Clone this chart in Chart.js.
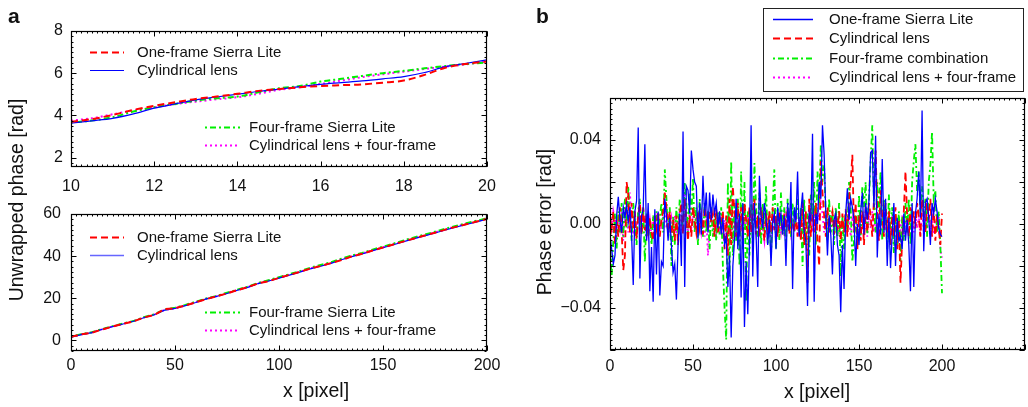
<!DOCTYPE html>
<html><head><meta charset="utf-8">
<script src="https://cdn.jsdelivr.net/npm/chart.js@4.4.0/dist/chart.umd.min.js"></script>
<style>
html,body{margin:0;padding:0;background:#fff;}
#wrap{position:relative;width:1028px;height:407px;overflow:hidden;font-family:"Liberation Sans",Arial,sans-serif;color:#111;}
canvas{position:absolute;}
.lbl{position:absolute;white-space:nowrap;line-height:1;}
</style></head><body>
<div id="wrap">
<canvas id="cA1" style="left:0;top:0" width="500" height="195"></canvas>
<canvas id="cA2" style="left:0;top:195px" width="500" height="212"></canvas>
<canvas id="cB" style="left:520px;top:0" width="508" height="407"></canvas>
<div class="lbl" style="left:8px;top:5px;font-weight:bold;font-size:21px;">a</div>
<div class="lbl" style="left:536px;top:5px;font-weight:bold;font-size:21px;">b</div>
<div class="lbl" style="left:17px;top:200px;font-size:19.5px;transform:translate(-50%,-50%) rotate(-90deg);">Unwrapped phase [rad]</div>
<div class="lbl" style="left:283px;top:381px;font-size:19.5px;">x [pixel]</div>
<div class="lbl" style="left:817px;top:382px;font-size:19.5px;transform:translateX(-50%);">x [pixel]</div>
<div class="lbl" style="left:545px;top:222px;font-size:19.5px;transform:translate(-50%,-50%) rotate(-90deg);">Phase error [rad]</div>
</div>
<script>
// ---------- Panel a (top, zoom 10..20) ----------
const topX = [10,10.5,11,11.5,12,12.5,13,13.5,14,14.5,15,15.5,16,16.5,17,17.5,18,18.5,19,19.5,20];
const topOneFrame = [3.69,3.82,4.02,4.26,4.45,4.62,4.78,4.89,5.02,5.16,5.25,5.33,5.39,5.43,5.47,5.55,5.65,5.92,6.26,6.44,6.55];
const topCylLens = [3.63,3.74,3.86,4.07,4.34,4.54,4.73,4.87,5.00,5.13,5.24,5.36,5.47,5.55,5.63,5.73,5.84,6.03,6.31,6.47,6.63];
const topFourFrame = [3.66,3.75,3.91,4.18,4.38,4.54,4.70,4.81,4.89,5.09,5.28,5.39,5.60,5.73,5.87,6.00,6.11,6.23,6.34,6.44,6.50];
const topCylFour = [3.75,3.86,4.05,4.23,4.38,4.53,4.65,4.76,4.86,5.02,5.21,5.33,5.49,5.65,5.81,5.95,6.07,6.20,6.31,6.42,6.55];
const topXTicks = [10,12,14,16,18,20];
const topYTicks = [2,4,6,8];

// ---------- Panel a (bottom, full 0..200) ----------
const fullX = [0,5,10,15,20,25,30,35,40,45,50,55,60,65,70,75,80,85,90,95,100,105,110,115,120,125,130,135,140,145,150,155,160,165,170,175,180,185,190,195,200];
const fullOneFrame = [1.7,2.9,3.7,5.2,6.6,7.9,9.0,10.9,12.1,14.9,15.3,16.6,18.1,19.6,21.0,22.3,23.9,25.3,27.1,28.1,29.7,31.1,32.5,34.1,35.3,36.7,38.1,39.9,41.1,42.7,44.1,45.5,47.0,48.4,49.8,51.1,52.6,53.9,55.1,56.4,57.6];
const fullCylLens = [1.6,2.8,3.7,5.3,6.6,7.8,9.1,10.8,12.2,14.4,15.2,16.5,18.0,19.7,20.9,22.3,23.8,25.2,27.0,28.2,29.6,31.0,32.4,34.0,35.2,36.6,38.3,39.8,41.0,42.6,44.0,45.4,46.9,48.3,49.6,51.0,52.4,53.8,55.0,56.3,57.6];
const fullFourFrame = [1.8,3.0,3.9,5.4,6.8,8.0,9.2,11.0,12.4,14.6,15.5,16.8,18.4,19.9,21.1,22.6,24.1,25.5,27.3,28.6,30.0,31.4,32.9,34.5,35.8,37.1,38.8,40.3,41.5,43.1,44.5,45.9,47.5,48.9,50.2,51.6,53.0,54.3,55.6,56.8,57.9];
const fullCylFour = [1.7,2.9,3.8,5.3,6.7,7.9,9.1,10.9,12.3,14.5,15.3,16.6,18.2,19.8,21.0,22.5,23.9,25.4,27.1,28.4,29.8,31.2,32.6,34.2,35.5,36.9,38.5,40.1,41.3,42.8,44.2,45.7,47.2,48.6,49.9,51.3,52.7,54.1,55.4,56.6,57.8];
const fullXTicks = [0,50,100,150,200];
const fullYTicks = [0,20,40,60];

// ---------- Panel b (phase error, x = 0..200) ----------
const errOneFrame = [-0.005,-0.012,-0.019,-0.015,0.004,0.013,0.002,-0.004,0.008,0.003,0.009,0.001,0.008,-0.005,-0.029,0.006,0.011,0.046,-0.026,0.004,
0.007,0.038,-0.008,0.010,-0.032,-0.011,-0.037,0.007,-0.024,0.006,-0.034,-0.018,-0.020,0.012,0.004,-0.008,0.003,-0.010,-0.023,-0.019,
-0.036,-0.010,0.005,-0.020,0.044,-0.030,0.018,0.016,0.005,0.035,0.026,0.020,0.018,-0.007,0.010,-0.005,0.023,0.004,0.015,-0.004,
0.015,0.002,0.014,0.005,0.010,-0.002,0.006,-0.005,0.003,-0.010,-0.006,-0.030,-0.015,-0.054,-0.020,-0.008,0.012,-0.012,0.005,-0.035,
0.010,-0.049,-0.018,-0.043,-0.010,0.047,-0.025,0.010,-0.005,-0.030,0.023,0.004,-0.002,0.010,0.003,-0.010,0.002,-0.020,0.001,0.005,
-0.012,0.008,0.000,0.005,-0.005,0.004,-0.020,0.010,-0.003,0.020,-0.031,0.008,0.001,0.025,-0.006,0.006,0.015,-0.004,-0.008,-0.039,
0.005,0.002,0.043,-0.037,0.005,0.000,0.020,0.012,0.047,0.033,0.005,-0.015,0.004,-0.005,-0.024,0.002,0.005,-0.010,-0.015,-0.042,
-0.010,-0.031,0.005,0.017,0.002,0.012,0.008,0.002,-0.020,0.000,-0.010,0.006,0.015,-0.005,0.010,0.002,0.011,0.034,0.035,0.008,
0.042,-0.016,0.005,-0.005,0.031,-0.004,0.012,-0.020,0.003,-0.021,-0.005,0.010,-0.020,0.003,-0.008,-0.006,-0.012,0.005,-0.008,0.002,
-0.010,-0.032,0.010,-0.030,0.005,0.012,0.025,0.003,0.054,-0.013,0.010,0.012,0.003,-0.010,0.010,0.005,0.012,0.006,-0.002,-0.005,-0.006];
const errCylLens = [0.004,-0.002,0.006,-0.010,0.002,-0.006,0.008,-0.003,-0.022,-0.015,0.020,0.014,-0.004,0.010,-0.002,0.006,-0.007,0.004,0.010,-0.005,
0.008,-0.003,0.005,-0.006,0.003,-0.004,-0.008,0.004,-0.002,0.006,-0.006,0.002,0.006,0.015,0.008,-0.004,0.006,-0.005,0.002,-0.008,
0.004,-0.010,0.005,0.010,-0.005,0.012,0.002,-0.008,0.004,-0.006,0.008,0.002,-0.004,0.006,-0.002,0.004,-0.005,0.008,0.003,-0.003,
0.006,0.001,0.005,-0.006,0.007,-0.004,0.003,-0.002,0.006,-0.012,0.004,-0.015,0.012,-0.010,0.018,0.005,-0.006,0.010,-0.004,0.008,
-0.008,0.010,0.002,-0.006,0.008,-0.004,0.006,0.012,-0.005,0.004,-0.006,0.008,0.000,-0.008,0.005,-0.002,0.006,-0.004,0.008,-0.003,
0.004,-0.006,0.006,0.002,-0.004,0.005,-0.002,0.007,-0.005,0.003,0.000,-0.004,0.004,-0.006,0.002,-0.008,0.010,-0.010,0.006,-0.028,
0.012,-0.006,0.005,-0.004,0.010,-0.008,-0.020,0.030,0.015,0.004,-0.006,0.008,-0.004,0.002,0.006,-0.005,0.004,-0.003,0.006,-0.008,
0.005,-0.004,0.007,-0.006,0.012,0.020,0.033,-0.004,0.010,-0.012,0.004,-0.008,0.006,-0.010,0.008,-0.004,0.010,0.004,-0.006,0.012,
0.035,0.006,-0.008,0.016,0.004,-0.006,0.010,-0.004,0.006,-0.010,0.004,-0.006,0.008,-0.012,0.002,-0.028,-0.008,0.006,0.025,0.004,
-0.006,0.008,-0.004,0.006,-0.002,0.010,0.004,-0.006,0.012,0.005,-0.004,0.010,0.002,0.012,-0.006,0.008,-0.008,0.004,-0.002,-0.010,0.005];
const errFourFrame = [-0.010,-0.025,-0.008,0.005,-0.012,0.006,-0.004,0.010,-0.006,0.012,-0.002,0.018,0.004,-0.008,0.010,0.002,-0.010,0.006,0.012,-0.005,
0.008,-0.018,0.005,-0.006,0.002,-0.010,0.004,-0.004,0.006,-0.008,0.003,0.010,-0.004,0.026,0.012,-0.006,0.008,-0.020,0.004,-0.010,
0.008,-0.006,0.012,0.005,-0.004,0.020,0.010,-0.006,0.015,0.004,0.022,-0.004,0.008,-0.010,0.012,0.004,-0.006,0.010,-0.004,0.006,
-0.012,0.008,-0.006,0.004,-0.008,0.006,-0.005,0.008,-0.020,-0.040,-0.055,0.020,-0.025,0.030,-0.015,0.010,-0.008,0.012,-0.020,0.025,
-0.012,0.020,-0.037,0.006,-0.015,0.010,-0.010,0.029,0.008,-0.006,0.015,-0.010,0.010,-0.004,0.018,-0.010,0.006,-0.015,0.008,0.026,
-0.012,0.010,-0.008,0.015,-0.005,0.008,-0.010,0.012,0.004,-0.006,0.010,-0.004,0.006,0.012,-0.005,0.008,-0.020,0.012,-0.010,0.005,
-0.015,0.014,0.004,0.020,-0.010,0.025,0.010,0.038,0.020,0.028,0.004,-0.008,0.012,-0.004,0.006,-0.010,0.008,-0.006,0.010,-0.025,
0.004,-0.012,0.006,-0.004,0.020,0.008,-0.018,-0.008,0.004,-0.010,0.014,-0.006,0.018,0.008,0.020,-0.005,0.012,0.030,0.047,0.010,
-0.004,0.020,0.006,0.025,-0.008,0.012,0.004,-0.012,0.014,-0.006,0.008,-0.014,0.004,-0.010,0.006,-0.018,0.004,-0.008,0.010,-0.004,
0.012,-0.010,0.020,0.030,0.038,0.015,0.025,0.005,0.018,0.004,0.012,-0.006,0.020,0.028,0.044,0.012,0.016,-0.004,0.006,-0.010,-0.033];
const errCylFour = [0.008,-0.004,0.006,0.002,-0.006,0.004,-0.002,0.006,-0.008,0.003,0.008,-0.004,0.015,0.002,-0.005,0.004,-0.006,0.006,0.002,-0.004,
0.005,-0.002,0.003,-0.005,0.002,-0.006,0.004,-0.002,0.005,-0.004,0.002,-0.003,0.004,0.008,-0.002,0.005,-0.004,0.003,-0.002,0.004,
-0.005,0.002,0.006,-0.003,0.004,0.015,0.003,-0.004,0.006,-0.002,0.004,-0.003,0.005,-0.002,0.003,-0.004,0.002,-0.006,0.004,-0.015,
-0.002,0.004,-0.003,0.002,-0.004,0.003,-0.002,0.004,-0.005,0.002,-0.006,0.004,-0.004,0.006,-0.008,0.004,-0.002,0.005,-0.006,0.002,
-0.004,0.006,-0.003,0.004,-0.006,0.005,-0.002,0.004,-0.004,0.003,-0.006,0.004,-0.002,-0.008,0.003,-0.004,0.005,-0.006,0.002,-0.003,
0.004,-0.005,0.002,-0.004,0.003,-0.006,0.004,-0.002,0.006,-0.004,0.002,-0.003,0.005,-0.006,0.003,-0.004,0.006,-0.002,0.004,-0.005,
0.002,0.010,-0.004,0.006,-0.003,0.008,0.002,0.010,0.005,-0.004,0.003,-0.006,0.002,-0.004,0.005,-0.002,0.004,-0.006,0.003,-0.004,
0.002,-0.003,0.005,-0.004,0.003,-0.006,0.002,-0.002,0.004,-0.005,0.003,-0.003,0.005,-0.004,0.002,-0.006,0.004,-0.002,0.006,-0.004,
0.003,-0.005,0.002,-0.003,0.005,-0.004,0.003,-0.006,0.002,-0.002,0.004,-0.004,0.002,-0.006,0.003,-0.003,0.004,-0.005,0.002,-0.004,
0.003,-0.002,0.005,-0.004,0.006,-0.002,0.004,-0.006,0.008,-0.004,0.003,-0.002,0.005,-0.004,0.003,-0.005,0.002,-0.003,0.004,-0.012,-0.016];
const errXTicks = [0,50,100,150,200];
const errYTicks = [-0.04,0,0.04];

// ---------- styles ----------
const RED='#ff0000', BLUE='#0000ff', GREEN='#00f000', MAG='#ff00ff';
const DASH_RED=[7,4], DASH_GREEN=[2,3,6,3], DASH_MAG=[2,3];
const FONT='"Liberation Sans", Arial, sans-serif';
Chart.defaults.font.family = FONT;
Chart.defaults.color = '#111';

function pts(xs, ys){ return ys.map((v,i)=>({x:xs[i], y:v})); }
function idxPts(ys){ return ys.map((v,i)=>({x:i, y:v})); }

const framePlugin = {
  id:'frame',
  afterDatasetsDraw(chart, args, o){
    const ctx=chart.ctx, a=chart.chartArea, xs=chart.scales.x, ys=chart.scales.y;
    ctx.save();
    ctx.strokeStyle='#000'; ctx.lineWidth=1; ctx.setLineDash([]);
    const L=Math.round(a.left)+0.5, R=Math.round(a.right)-0.5, T=Math.round(a.top)+0.5, B=Math.round(a.bottom)-0.5;
    ctx.beginPath();
    const xTicks=(step,len)=>{ const k0=Math.ceil(xs.min/step-1e-6), k1=Math.floor(xs.max/step+1e-6);
      for(let k=k0;k<=k1;k++){ const p=Math.round(xs.getPixelForValue(k*step))+0.5; ctx.moveTo(p,T); ctx.lineTo(p,T+len); ctx.moveTo(p,B); ctx.lineTo(p,B-len);} };
    const yTicks=(step,len)=>{ const k0=Math.ceil(ys.min/step-1e-6), k1=Math.floor(ys.max/step+1e-6);
      for(let k=k0;k<=k1;k++){ const p=Math.round(ys.getPixelForValue(k*step))+0.5; ctx.moveTo(L,p); ctx.lineTo(L+len,p); ctx.moveTo(R,p); ctx.lineTo(R-len,p);} };
    xTicks(o.xMinor,2); yTicks(o.yMinor,2);
    xTicks(o.xMajor,5); yTicks(o.yMajor,5);
    ctx.stroke();
    ctx.lineWidth=1.2;
    ctx.strokeRect(L,T,R-L,B-T);
    if(o.box){ ctx.strokeStyle='#222'; ctx.lineWidth=1; ctx.strokeRect(o.box[0]+0.5,o.box[1]+0.5,o.box[2],o.box[3]); }
    ctx.font='15px '+FONT; ctx.textBaseline='middle'; ctx.fillStyle='#111';
    (o.items||[]).forEach(it=>{
      ctx.beginPath(); ctx.strokeStyle=it.color; ctx.lineWidth=it.width; ctx.setLineDash(it.dash||[]);
      ctx.moveTo(it.x1,it.y+0.5); ctx.lineTo(it.x2,it.y+0.5); ctx.stroke();
      ctx.setLineDash([]);
      ctx.fillText(it.label,it.xt,it.y+1);
    });
    ctx.restore();
  }
};

function makeScales(xmin,xmax,xt,ymin,ymax,yt,yW,xH,yFmt,xPad,yPad){
  return {
    x:{type:'linear',min:xmin,max:xmax,
       grid:{display:false,drawTicks:false},border:{display:false},
       ticks:{font:{size:16},color:'#111',padding:xPad,maxRotation:0,autoSkip:false},
       afterBuildTicks:s=>{s.ticks=xt.map(v=>({value:v}));},
       afterFit:s=>{s.height=xH; s.paddingLeft=0; s.paddingRight=0;}},
    y:{type:'linear',min:ymin,max:ymax,
       grid:{display:false,drawTicks:false},border:{display:false},
       ticks:{font:{size:16},color:'#111',padding:yPad,autoSkip:false,callback:yFmt||(v=>String(v))},
       afterBuildTicks:s=>{s.ticks=yt.map(v=>({value:v}));},
       afterFit:s=>{s.width=yW; s.paddingTop=0; s.paddingBottom=0;}}
  };
}

function ds(label,data,color,width,dash,mono){
  return {label,data,borderColor:color,backgroundColor:color,borderWidth:width,borderDash:dash||[],
    pointRadius:0,fill:false,tension:mono?0.3:0,cubicInterpolationMode:mono?'monotone':'default'};
}

// Panel a top
new Chart(document.getElementById('cA1'),{
  type:'line',
  data:{datasets:[
    ds('One-frame Sierra Lite',pts(topX,topOneFrame),RED,2,DASH_RED,true),
    ds('Cylindrical lens',pts(topX,topCylLens),BLUE,1.2,[],true),
    ds('Four-frame Sierra Lite',pts(topX,topFourFrame),GREEN,2,DASH_GREEN,true),
    ds('Cylindrical lens + four-frame',pts(topX,topCylFour),MAG,2,DASH_MAG,true)
  ]},
  options:{responsive:false,animation:false,
    layout:{padding:{top:31,right:13,left:0,bottom:0}},
    plugins:{legend:{display:false},tooltip:{enabled:false},
      frame:{xMinor:0.125,xMajor:2,yMinor:0.25,yMajor:2,items:[
        {x1:90,x2:124,xt:137,y:52,color:RED,width:2,dash:DASH_RED,label:'One-frame Sierra Lite'},
        {x1:90,x2:124,xt:137,y:70,color:BLUE,width:1.2,dash:[],label:'Cylindrical lens'},
        {x1:205,x2:240,xt:249,y:127,color:GREEN,width:2,dash:DASH_GREEN,label:'Four-frame Sierra Lite'},
        {x1:205,x2:240,xt:249,y:145,color:MAG,width:2,dash:DASH_MAG,label:'Cylindrical lens + four-frame'}]}},
    scales:makeScales(10,20,topXTicks,1.55,8,topYTicks,71,28,null,10,8)
  },
  plugins:[framePlugin]
});

// Panel a bottom
new Chart(document.getElementById('cA2'),{
  type:'line',
  data:{datasets:[
    ds('One-frame Sierra Lite',pts(fullX,fullOneFrame),RED,2,DASH_RED),
    ds('Cylindrical lens',pts(fullX,fullCylLens),BLUE,1.2,[]),
    ds('Four-frame Sierra Lite',pts(fullX,fullFourFrame),GREEN,2,DASH_GREEN),
    ds('Cylindrical lens + four-frame',pts(fullX,fullCylFour),MAG,2,DASH_MAG)
  ]},
  options:{responsive:false,animation:false,
    layout:{padding:{top:19,right:13,left:0,bottom:0}},
    plugins:{legend:{display:false},tooltip:{enabled:false},
      frame:{xMinor:2.5,xMajor:50,yMinor:2.5,yMajor:20,items:[
        {x1:90,x2:124,xt:137,y:42,color:RED,width:2,dash:DASH_RED,label:'One-frame Sierra Lite'},
        {x1:90,x2:124,xt:137,y:60,color:'#6666ff',width:1.5,dash:[],label:'Cylindrical lens'},
        {x1:205,x2:240,xt:249,y:117,color:GREEN,width:2,dash:DASH_GREEN,label:'Four-frame Sierra Lite'},
        {x1:205,x2:240,xt:249,y:135,color:MAG,width:2,dash:DASH_MAG,label:'Cylindrical lens + four-frame'}]}},
    scales:makeScales(0,200,fullXTicks,-5,60,fullYTicks,71,56,null,5,10)
  },
  plugins:[framePlugin]
});

// Panel b
const fmtB = v => Math.abs(v)<1e-9 ? '0.00' : (v<0 ? '\u2212'+Math.abs(v).toFixed(2) : v.toFixed(2));
new Chart(document.getElementById('cB'),{
  type:'line',
  data:{datasets:[
    ds('One-frame Sierra Lite',idxPts(errOneFrame),BLUE,1.3,[]),
    ds('Cylindrical lens',idxPts(errCylLens),RED,1.8,DASH_RED),
    ds('Four-frame combination',idxPts(errFourFrame),GREEN,1.8,DASH_GREEN),
    ds('Cylindrical lens + four-frame',idxPts(errCylFour),MAG,1.8,DASH_MAG)
  ]},
  options:{responsive:false,animation:false,
    layout:{padding:{top:98,right:3,left:0,bottom:0}},
    plugins:{legend:{display:false},tooltip:{enabled:false},
      frame:{xMinor:3.125,xMajor:50,yMinor:0.0025,yMajor:0.02,box:[243,8,260,83],items:[
        {x1:253,x2:293,xt:309,y:19,color:BLUE,width:1.3,dash:[],label:'One-frame Sierra Lite'},
        {x1:253,x2:293,xt:309,y:38,color:RED,width:2,dash:DASH_RED,label:'Cylindrical lens'},
        {x1:253,x2:293,xt:309,y:58,color:GREEN,width:2,dash:DASH_GREEN,label:'Four-frame combination'},
        {x1:253,x2:293,xt:309,y:77,color:MAG,width:2,dash:DASH_MAG,label:'Cylindrical lens + four-frame'}]}},
    scales:makeScales(0,250,errXTicks,-0.06,0.06,errYTicks,90,57,fmtB,7,9)
  },
  plugins:[framePlugin]
});
</script>
</body></html>
